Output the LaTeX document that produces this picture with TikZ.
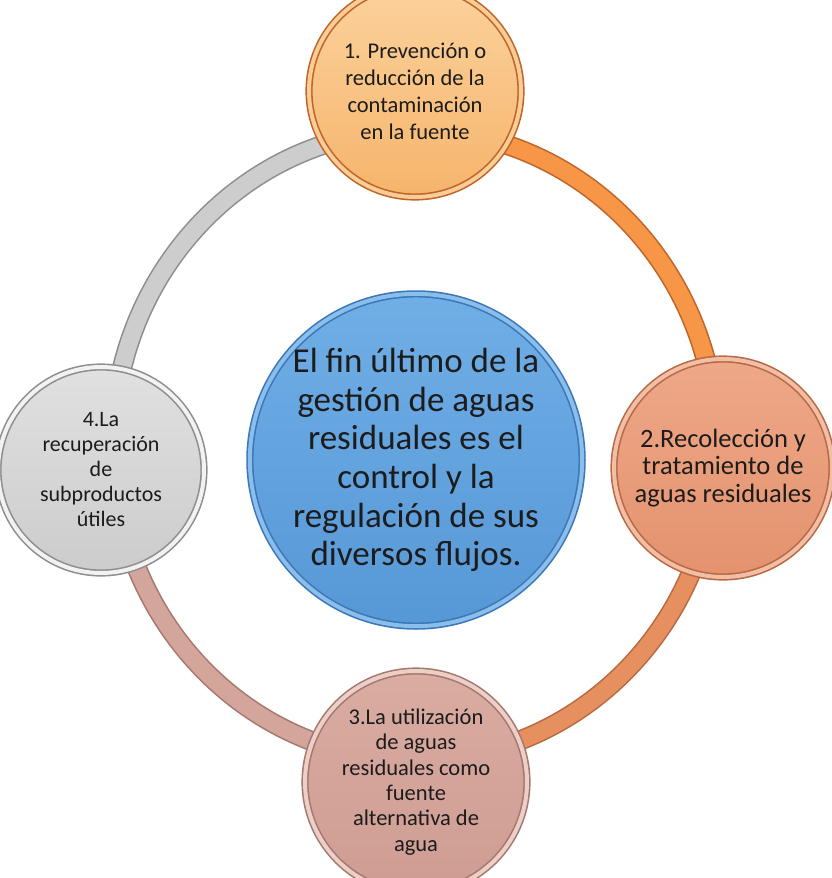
\documentclass[tikz,border=0pt]{standalone}
\usepackage{fontspec}
\setmainfont{Carlito}
\definecolor{txtgray}{HTML}{1C1C1C}
\definecolor{grayband}{HTML}{CDCDCD}
\definecolor{grayedge}{HTML}{8F8F8F}
\definecolor{orgband}{HTML}{F79646}
\definecolor{orgedge}{HTML}{C0652A}
\definecolor{salband}{HTML}{E6905F}
\definecolor{saledge}{HTML}{B86A45}
\definecolor{pinkband}{HTML}{D4A59B}
\definecolor{pinkedge}{HTML}{A57970}
\definecolor{bluerim}{HTML}{3A78B8}
\begin{document}
\begin{tikzpicture}[x=1pt,y=-1pt]
\tikzstyle{band} = [line width=1.6, double distance=17];
\tikzstyle{bubble} = [circle, align=center, text=txtgray, inner sep=0, line width=1.6, double distance=4];
\tikzstyle{small} = [font=\fontsize{22.5}{25.3}\selectfont];
\useasboundingbox (0,0) rectangle (832,878);
\coordinate (hub) at (415,445);
% ring behind the circles
\draw[band, draw=grayedge, double=grayband] (hub) ++(-302,0) arc[start angle=180, end angle=270, x radius=302, y radius=315];
\draw[band, draw=orgedge, double=orgband] (hub) ++(0,-315) arc[start angle=270, end angle=360, x radius=302, y radius=315];
\draw[band, draw=saledge, double=salband] (hub) ++(302,0) arc[start angle=0, end angle=90, x radius=302, y radius=315];
\draw[band, draw=pinkedge, double=pinkband] (hub) ++(0,315) arc[start angle=90, end angle=180, x radius=302, y radius=315];
% circles
\node[bubble, minimum size=320, draw=bluerim, double={rgb,255:red,140;green,190;blue,236}, top color={rgb,255:red,112;green,174;blue,230}, bottom color={rgb,255:red,86;green,152;blue,214}, font=\fontsize{35}{38.6}\selectfont] (c0) at (416,460) {El fin último de la\\gestión de aguas\\residuales es el\\control y la\\regulación de sus\\diversos flujos.};
\node[bubble, small, minimum size=212, draw=orgedge, double={rgb,255:red,250;green,205;blue,150}, top color={rgb,255:red,251;green,210;blue,156}, bottom color={rgb,255:red,246;green,180;blue,108}, font=\fontsize{22.5}{27}\selectfont] (c1) at (415,91) {1. Prevención o\\reducción de la\\contaminación\\en la fuente};
\node[bubble, minimum size=218, draw=saledge, double={rgb,255:red,242;green,190;blue,166}, top color={rgb,255:red,238;green,168;blue,136}, bottom color={rgb,255:red,228;green,146;blue,110}, font=\fontsize{26.5}{27.8}\selectfont] (c2) at (723,468) {2.Recolección y\\tratamiento de\\aguas residuales};
\node[bubble, small, minimum size=222, draw=pinkedge, double={rgb,255:red,236;green,208;blue,200}, top color={rgb,255:red,218;green,172;blue,162}, bottom color={rgb,255:red,206;green,156;blue,146}] (c3) at (416,782) {3.La utilización\\de aguas\\residuales como\\fuente\\alternativa de\\agua};
\node[bubble, small, minimum size=206, draw=grayedge, double=white!95!black, top color=white!88!black, bottom color=white!80!black, font=\fontsize{22}{25}\selectfont] (c4) at (101,470) {4.La\\recuperación\\de\\subproductos\\útiles};
\end{tikzpicture}
\end{document}
